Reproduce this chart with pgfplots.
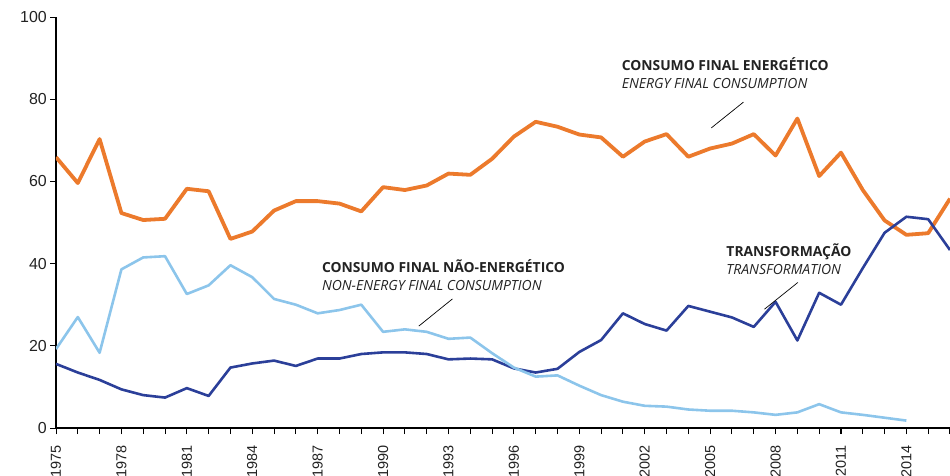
\documentclass[border=0pt]{standalone}
\usepackage{fontspec}
\setmainfont{Open Sans}
\newfontfamily\tickfont{Liberation Sans}
\usepackage{pgfplots}
\pgfplotsset{compat=1.18}
\definecolor{cOrange}{HTML}{EC7A2C}
\definecolor{cDark}{HTML}{2B3F99}
\definecolor{cLight}{HTML}{8CC5EB}
\definecolor{cTxt}{HTML}{222222}
\begin{document}
\begin{tikzpicture}
\begin{axis}[
  name=ax,
  scale only axis,
  width=894bp, height=411bp,
  xmin=1975, xmax=2016,
  ymin=0, ymax=100,
  axis x line*=bottom, axis y line*=left,
  axis line style={black, line width=1.2pt},
  xtick={1975,1978,...,2014},
  minor xtick={1975,...,2016},
  ytick={0,20,...,100},
  tick align=outside,
  major tick length=6bp, minor tick length=6bp,
  tick style={black, line width=0.9pt},
  xticklabel style={rotate=90, anchor=east, inner xsep=11bp, font=\tickfont\fontsize{14.5}{15}\selectfont, text=cTxt},
  yticklabel style={font=\tickfont\fontsize{16}{16}\selectfont, text=cTxt, inner xsep=3bp},
  /pgf/number format/assume math mode=true,
  /pgf/number format/1000 sep={},
  xticklabel={\pgfmathprintnumber[1000 sep={},fixed,precision=0]{\tick}},
  clip=true,
]
% Energy final consumption
\addplot[cOrange, line width=3.8bp, line join=round] coordinates {
(1975,65.9)(1976,59.6)(1977,70.3)(1978,52.3)(1979,50.6)(1980,50.9)(1981,58.2)(1982,57.6)
(1983,46.0)(1984,47.8)(1985,52.9)(1986,55.2)(1987,55.2)(1988,54.6)(1989,52.7)(1990,58.6)
(1991,57.9)(1992,59.0)(1993,61.9)(1994,61.6)(1995,65.5)(1996,70.9)(1997,74.5)(1998,73.3)
(1999,71.4)(2000,70.7)(2001,66.0)(2002,69.7)(2003,71.5)(2004,66.0)(2005,68.0)(2006,69.2)
(2007,71.5)(2008,66.3)(2009,75.3)(2010,61.3)(2011,67.0)(2012,57.9)(2013,50.5)(2014,47.0)
(2015,47.4)(2016,55.8)
};
% Transformation
\addplot[cDark, line width=2.6bp, line join=round] coordinates {
(1975,15.6)(1976,13.5)(1977,11.7)(1978,9.4)(1979,8.0)(1980,7.4)(1981,9.7)(1982,7.8)
(1983,14.7)(1984,15.7)(1985,16.4)(1986,15.1)(1987,16.9)(1988,16.9)(1989,18.0)(1990,18.4)
(1991,18.4)(1992,18.0)(1993,16.7)(1994,16.9)(1995,16.7)(1996,14.5)(1997,13.5)(1998,14.4)
(1999,18.5)(2000,21.4)(2001,27.9)(2002,25.3)(2003,23.7)(2004,29.7)(2005,28.3)(2006,26.9)
(2007,24.6)(2008,30.7)(2009,21.3)(2010,32.9)(2011,30.0)(2012,38.9)(2013,47.5)(2014,51.4)
(2015,50.8)(2016,43.3)
};
% Non-energy final consumption
\addplot[cLight, line width=2.6bp, line join=round] coordinates {
(1975,19.2)(1976,27.0)(1977,18.3)(1978,38.6)(1979,41.5)(1980,41.8)(1981,32.6)(1982,34.7)
(1983,39.6)(1984,36.7)(1985,31.4)(1986,30.0)(1987,27.9)(1988,28.7)(1989,30.0)(1990,23.4)
(1991,24.0)(1992,23.4)(1993,21.7)(1994,22.0)(1995,18.2)(1996,14.7)(1997,12.5)(1998,12.8)
(1999,10.3)(2000,8.0)(2001,6.4)(2002,5.4)(2003,5.2)(2004,4.5)(2005,4.2)(2006,4.2)
(2007,3.8)(2008,3.2)(2009,3.8)(2010,5.8)(2011,3.8)(2012,3.2)(2013,2.5)(2014,1.8)
};
% annotations
\node[anchor=base west, inner sep=0pt, font=\bfseries\fontsize{13.9}{14}\selectfont, text=cTxt] at (axis cs:2000.94,86.9) {CONSUMO FINAL ENERGÉTICO};
\node[anchor=base west, inner sep=0pt, font=\itshape\fontsize{14}{14}\selectfont, text=cTxt] at (axis cs:2000.94,82.5) {ENERGY FINAL CONSUMPTION};
\draw[black, line width=0.7pt] (axis cs:2005.05,73.0) -- (axis cs:2006.53,79.3);

\node[anchor=base west, inner sep=0pt, font=\bfseries\fontsize{13.9}{14}\selectfont, text=cTxt] at (axis cs:1987.19,37.8) {CONSUMO FINAL NÃO-ENERGÉTICO};
\node[anchor=base west, inner sep=0pt, font=\itshape\fontsize{14}{14}\selectfont, text=cTxt] at (axis cs:1987.19,33.5) {NON-ENERGY FINAL CONSUMPTION};
\draw[black, line width=0.7pt] (axis cs:1991.64,24.8) -- (axis cs:1993.18,31.4);

\node[anchor=base west, inner sep=0pt, font=\bfseries\fontsize{13.9}{14}\selectfont, text=cTxt] at (axis cs:2005.74,41.7) {TRANSFORMAÇÃO};
\node[anchor=base west, inner sep=0pt, font=\itshape\fontsize{14}{14}\selectfont, text=cTxt] at (axis cs:2005.74,37.3) {TRANSFORMATION};
\draw[black, line width=0.7pt] (axis cs:2007.49,28.9) -- (axis cs:2009.02,35.4);
\end{axis}
\pgfresetboundingbox
\path[use as bounding box] ([shift={(-56bp,-48bp)}]ax.south west) rectangle ++(950bp,476bp);
\end{tikzpicture}
\end{document}
